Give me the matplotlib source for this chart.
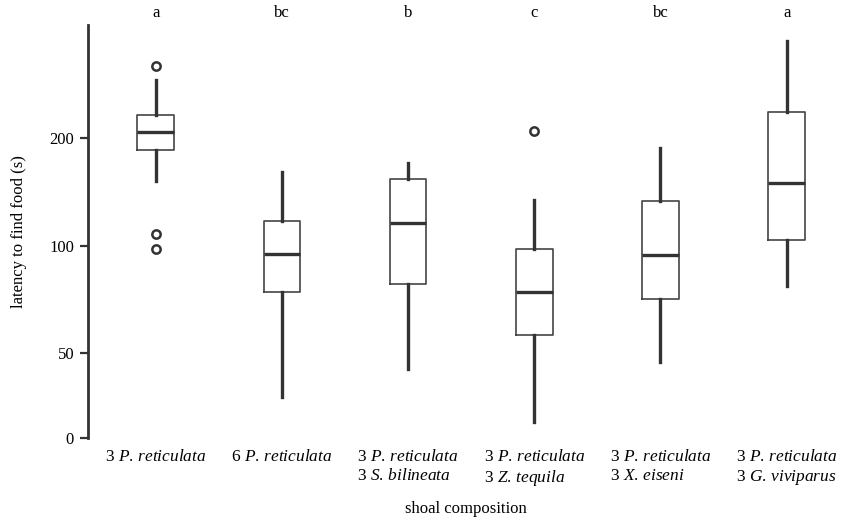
import numpy as np
import matplotlib
matplotlib.use("Agg")
import matplotlib.pyplot as plt

plt.rcParams['font.family'] = ['Liberation Serif', 'DejaVu Serif']
plt.rcParams['mathtext.fontset'] = 'custom'
plt.rcParams['mathtext.rm'] = 'Liberation Serif'
plt.rcParams['mathtext.it'] = 'Liberation Serif:italic'

# groups (x tick labels, two lines where needed)
labels = [
    r"3 $\mathit{P.\,reticulata}$",
    r"6 $\mathit{P.\,reticulata}$",
    "3 $\\mathit{P.\\,reticulata}$\n3 $\\mathit{S.\\,bilineata}$",
    "3 $\\mathit{P.\\,reticulata}$\n3 $\\mathit{Z.\\,tequila}$",
    "3 $\\mathit{P.\\,reticulata}$\n3 $\\mathit{X.\\,eiseni}$",
    "3 $\\mathit{P.\\,reticulata}$\n3 $\\mathit{G.\\,viviparus}$",
]
letters = ["a", "bc", "b", "c", "bc", "a"]

# box statistics (seconds)
whis_lo = [152, 37.5, 45, 32, 47, 77]
q1 = [185, 74, 78, 56, 71, 104]
med = [209, 95, 116, 74, 94, 150]
q3 = [232, 117, 154, 98, 133, 237]
whis_hi = [292, 161, 171, 134, 188, 374]
fliers = [[320, 108, 98], [], [], [210], [], []]

# axis ticks; the "0" tick sits at the bottom of the axis
ytick_vals = [28.9, 50, 100, 200]
ytick_labels = ["0", "50", "100", "200"]

stats = []
for i in range(len(labels)):
    stats.append(dict(whislo=whis_lo[i], q1=q1[i], med=med[i], q3=q3[i],
                      whishi=whis_hi[i], fliers=fliers[i]))

fig = plt.figure(figsize=(8.43, 5.22), dpi=100)
ax = fig.add_axes([88 / 843, 84.3 / 522, 1 - 88 / 843, 412.7 / 522])

dark = "#333333"
pos = np.arange(1, len(labels) + 1)
ax.bxp(stats, positions=pos, widths=0.29, showcaps=False,
       boxprops=dict(color="#444444", linewidth=1.2),
       medianprops=dict(color=dark, linewidth=2.4),
       whiskerprops=dict(color=dark, linewidth=2.4),
       flierprops=dict(marker="o", markerfacecolor="none", markeredgecolor=dark,
                       markersize=6, markeredgewidth=1.8))

ax.set_yscale("log", base=2)
ax.set_ylim(28.9, 416)
ax.set_xlim(0.464, 6.446)
ax.set_yticks(ytick_vals)
ax.set_yticklabels(ytick_labels)
ax.yaxis.set_minor_locator(matplotlib.ticker.NullLocator())
ax.tick_params(axis="y", length=6, width=1.6, color=dark, labelsize=12, pad=4)

ax.set_xticks(pos)
ax.set_xticklabels(labels, fontsize=12.5, multialignment="left", linespacing=1.25)
ax.tick_params(axis="x", length=0, pad=8)
for t in ax.get_xticklabels():
    t.set_verticalalignment("top")

for s in ["top", "right", "bottom"]:
    ax.spines[s].set_visible(False)
ax.spines["left"].set_linewidth(2)
ax.spines["left"].set_color(dark)

for p, l in zip(pos, letters):
    ax.text(p, 1.03, l, transform=ax.get_xaxis_transform(), ha="center",
            va="center", fontsize=12)

ax.set_ylabel("latency to find food (s)", fontsize=12, labelpad=16)
ax.set_xlabel("shoal composition", fontsize=12, labelpad=9)

fig.savefig("out.png", dpi=100)
